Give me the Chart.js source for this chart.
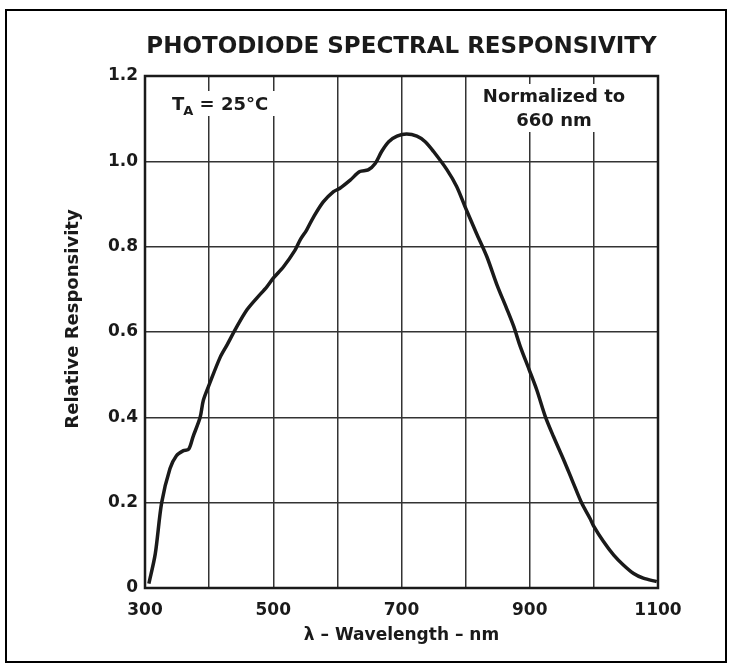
<!DOCTYPE html>
<html>
<head>
<meta charset="utf-8">
<script src="https://cdn.jsdelivr.net/npm/chart.js@4.4.1/dist/chart.umd.min.js"></script>
<style>
  html, body { margin: 0; padding: 0; background: #fff; }
  #wrap { width: 733px; height: 668px; position: relative; }
</style>
</head>
<body>
<div id="wrap"><canvas id="c" width="733" height="668"></canvas></div>
<script>
const chartTitle = 'PHOTODIODE SPECTRAL RESPONSIVITY';
const xAxisTitle = 'λ – Wavelength – nm';
const yAxisTitle = 'Relative Responsivity';
const xTickLabels = ['300', '500', '700', '900', '1100'];
const yTickLabels = ['0', '0.2', '0.4', '0.6', '0.8', '1.0', '1.2'];

const wavelength = [306,316,326,339,349,360,368,375,386,391,401,417,428,443,459,474,490,500,516,534,
  542,552,563,578,594,604,620,635,648,659,669,680,693,708,724,737,750,771,786,799,
  817,833,849,864,875,885,899,911,924,937,953,966,981,994,999,1015,1031,1046,1062,1077,1098];
const responsivity = [0.01,0.08,0.20,0.28,0.31,0.322,0.325,0.355,0.40,0.44,0.48,0.54,0.57,0.612,0.652,0.679,0.706,0.726,0.753,0.792,
  0.816,0.839,0.870,0.905,0.929,0.937,0.956,0.976,0.980,0.995,1.023,1.046,1.059,1.064,1.059,1.046,1.023,0.980,0.941,0.894,
  0.831,0.777,0.710,0.655,0.613,0.567,0.512,0.464,0.403,0.355,0.300,0.253,0.199,0.163,0.147,0.109,0.077,0.054,0.034,0.023,0.015];

const points = wavelength.map((w, i) => ({ x: w, y: responsivity[i] }));
const FONT = '"DejaVu Sans", "Liberation Sans", Arial, sans-serif';

const decor = {
  id: 'decor',
  beforeDatasetsDraw(chart) {
    const ctx = chart.ctx;
    ctx.save();
    // white boxes behind annotations (interrupt grid lines)
    ctx.fillStyle = '#fff';
    ctx.fillRect(167, 91, 110, 25);
    ctx.fillRect(478, 84, 154, 48);
    ctx.fillStyle = '#1a1a1a';
    ctx.textBaseline = 'alphabetic';
    // T_A = 25°C
    let x = 172, y = 110;
    ctx.textAlign = 'left';
    ctx.font = 'bold 18px ' + FONT;
    ctx.fillText('T', x, y);
    x += ctx.measureText('T').width - 1;
    ctx.font = 'bold 13px ' + FONT;
    ctx.fillText('A', x, y + 5);
    x += ctx.measureText('A').width;
    ctx.font = 'bold 18px ' + FONT;
    ctx.fillText(' = 25°C', x, y);
    // Normalized to 660 nm
    ctx.textAlign = 'center';
    ctx.font = 'bold 18px ' + FONT;
    ctx.fillText('Normalized to', 554, 102);
    ctx.fillText('660 nm', 554, 126);
    ctx.restore();
  },
  afterDraw(chart) {
    const ctx = chart.ctx;
    const ca = chart.chartArea;
    ctx.save();
    // plot border
    ctx.strokeStyle = '#1a1a1a';
    ctx.lineWidth = 2.5;
    ctx.strokeRect(ca.left, ca.top, ca.right - ca.left, ca.bottom - ca.top);
    // outer frame
    ctx.strokeStyle = '#000';
    ctx.lineWidth = 2;
    ctx.strokeRect(6, 10, 720, 652);
    // titles
    ctx.fillStyle = '#1a1a1a';
    ctx.textAlign = 'center';
    ctx.textBaseline = 'middle';
    ctx.font = 'bold 23px ' + FONT;
    ctx.fillText(chartTitle, (ca.left + ca.right) / 2, 47);
    ctx.font = 'bold 17px ' + FONT;
    ctx.fillText(xAxisTitle, (ca.left + ca.right) / 2, 636);
    ctx.font = 'bold 18px ' + FONT;
    ctx.translate(73, 319);
    ctx.rotate(-Math.PI / 2);
    ctx.fillText(yAxisTitle, 0, 0);
    ctx.restore();
  }
};

new Chart(document.getElementById('c'), {
  type: 'line',
  data: {
    datasets: [{
      data: points,
      borderColor: '#1a1a1a',
      borderWidth: 3.5,
      pointRadius: 0,
      tension: 0.3,
      fill: false
    }]
  },
  options: {
    responsive: false,
    animation: false,
    layout: { padding: { left: 0, top: 76, right: 75, bottom: 0 } },
    plugins: { legend: { display: false }, tooltip: { enabled: false }, title: { display: false } },
    scales: {
      x: {
        type: 'linear', min: 300, max: 1100,
        afterFit(s) { s.height = 80; },
        border: { display: false },
        grid: { color: '#333', lineWidth: 1.5, drawTicks: false },
        ticks: {
          stepSize: 100, padding: 12, color: '#1a1a1a', maxRotation: 0,
          font: { family: FONT, size: 17, weight: 'bold' },
          callback(v) { const s = String(v); return xTickLabels.includes(s) ? s : ''; }
        }
      },
      y: {
        type: 'linear', min: 0, max: 1.2,
        afterFit(s) { s.width = 145; },
        border: { display: false },
        grid: { color: '#333', lineWidth: 1.5, drawTicks: false },
        ticks: {
          stepSize: 0.2, padding: 7, color: '#1a1a1a',
          font: { family: FONT, size: 17, weight: 'bold' },
          callback(v) { const i = Math.round(v / 0.2); return yTickLabels[i] !== undefined ? yTickLabels[i] : ''; }
        }
      }
    }
  },
  plugins: [decor]
});
</script>
</body>
</html>
